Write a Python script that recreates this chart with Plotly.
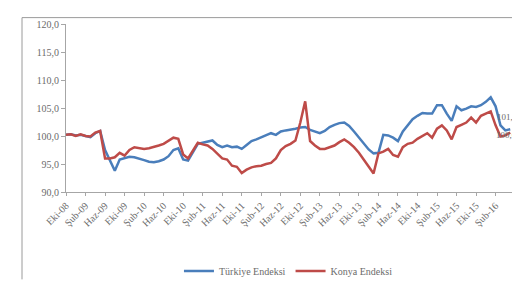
import plotly.graph_objects as go

# Month categories Oct 2008 – May 2016 (Turkish abbreviations)
month_abbr = ["Oca", "Şub", "Mar", "Nis", "May", "Haz", "Tem", "Ağu", "Eyl", "Eki", "Kas", "Ara"]
months = []
y, mo = 2008, 10
while (y, mo) <= (2016, 5):
    months.append(f"{month_abbr[mo-1]}-{str(y)[2:]}")
    mo += 1
    if mo > 12:
        mo = 1
        y += 1

turkiye = [100.2, 100.3, 100.1, 100.2, 100.0, 99.8, 100.5, 100.9, 97.5, 95.5,
           93.8, 95.8, 96.0, 96.3, 96.2, 96.0, 95.7, 95.4, 95.3, 95.5,
           95.8, 96.4, 97.5, 97.8, 95.8, 95.6, 97.0, 98.6, 98.8, 99.0,
           99.2, 98.4, 98.0, 98.3, 98.0, 98.1, 97.7, 98.4, 99.1, 99.4,
           99.8, 100.1, 100.5, 100.2, 100.8, 101.0, 101.1, 101.3, 101.5, 101.6,
           101.1, 100.8, 100.5, 100.9, 101.6, 102.0, 102.3, 102.4, 101.8, 100.8,
           99.8, 98.8, 97.6, 96.9, 97.0, 100.2, 100.1, 99.7, 99.1, 100.8,
           101.9, 103.0, 103.6, 104.1, 104.0, 104.0, 105.5, 105.5, 104.0, 102.7,
           105.3, 104.6, 104.9, 105.3, 105.2, 105.5, 106.1, 106.9, 105.3, 101.9,
           101.0, 101.2]

konya = [100.2, 100.3, 100.0, 100.3, 100.0, 99.9, 100.6, 100.9, 96.0, 96.0,
         96.2, 97.0, 96.5, 97.5, 98.0, 97.8, 97.7, 97.8, 98.0, 98.3,
         98.6, 99.2, 99.7, 99.5, 96.7, 96.0, 97.5, 98.8, 98.5, 98.3,
         97.7, 96.8, 96.0, 95.8, 94.7, 94.5, 93.4, 94.0, 94.4, 94.6,
         94.7, 95.0, 95.2, 96.0, 97.5, 98.2, 98.6, 99.2, 102.4, 106.2,
         99.1, 98.3, 97.7, 97.7, 98.0, 98.3, 98.9, 99.4, 98.8, 98.0,
         97.0, 95.8, 94.7, 93.3, 96.9, 97.2, 97.7, 96.6, 96.3, 98.0,
         98.6, 98.8, 99.5, 100.0, 100.5, 99.7, 101.3, 101.9, 101.0, 99.4,
         101.6, 102.0, 102.4, 103.3, 102.4, 103.6, 104.0, 104.4, 101.9, 99.9,
         100.1, 100.6]

y_ticks = [90, 95, 100, 105, 110, 115, 120]
y_tick_text = ["90,0", "95,0", "100,0", "105,0", "110,0", "115,0", "120,0"]
x_tick_labels = months[::4]

blue = "#4A7EBB"
red = "#BE4B48"
grey = "#6b6b6b"

fig = go.Figure()
fig.add_trace(go.Scatter(x=months, y=turkiye, mode="lines", name="Türkiye Endeksi",
                         line=dict(color=blue, width=2.5)))
fig.add_trace(go.Scatter(x=months, y=konya, mode="lines", name="Konya Endeksi",
                         line=dict(color=red, width=2.5)))

fig.add_annotation(xref="paper", x=1.0, y=turkiye[-1], text="101,2", showarrow=False,
                   xanchor="right", yanchor="middle", xshift=-1, yshift=12,
                   font=dict(family="Liberation Serif", size=9, color=grey))
fig.add_annotation(xref="paper", x=1.0, y=konya[-1], text="100,6", showarrow=False,
                   xanchor="right", yanchor="middle", xshift=-1, yshift=-2,
                   font=dict(family="Liberation Serif", size=9, color=grey))

# outer frame (left and top edges)
fig.add_shape(type="line", xref="paper", yref="paper", x0=-0.0969, x1=-0.0969,
              y0=-0.52, y1=1.038, line=dict(color="#9a9a9a", width=1), layer="below")
fig.add_shape(type="line", xref="paper", yref="paper", x0=-0.0969, x1=1.02,
              y0=1.038, y1=1.038, line=dict(color="#9a9a9a", width=1), layer="below")

fig.update_layout(
    width=520, height=285,
    margin=dict(l=58, r=8, t=16, b=86),
    paper_bgcolor="white", plot_bgcolor="white",
    showlegend=True,
    legend=dict(orientation="h", x=0.49, xanchor="center", y=-0.47, yanchor="middle",
                font=dict(family="Liberation Serif", size=10, color=grey),
                itemwidth=30, bgcolor="rgba(0,0,0,0)"),
    xaxis=dict(type="category", range=[0, 93], tickmode="array", tickvals=x_tick_labels,
               ticktext=x_tick_labels, tickangle=-45, showgrid=False, automargin=False,
               showline=True, linecolor="#a6a6a6", linewidth=1,
               ticks="outside", ticklen=3, tickcolor="#a6a6a6",
               tickfont=dict(family="Liberation Serif", size=10, color=grey)),
    yaxis=dict(range=[90, 120], tickmode="array", tickvals=y_ticks, ticktext=y_tick_text,
               showgrid=False, zeroline=False, showline=True, linecolor="#a6a6a6",
               linewidth=1, ticks="outside", ticklen=4, tickcolor="#a6a6a6", automargin=False,
               tickfont=dict(family="Liberation Serif", size=10, color=grey)),
)

fig.write_html("out.html")
